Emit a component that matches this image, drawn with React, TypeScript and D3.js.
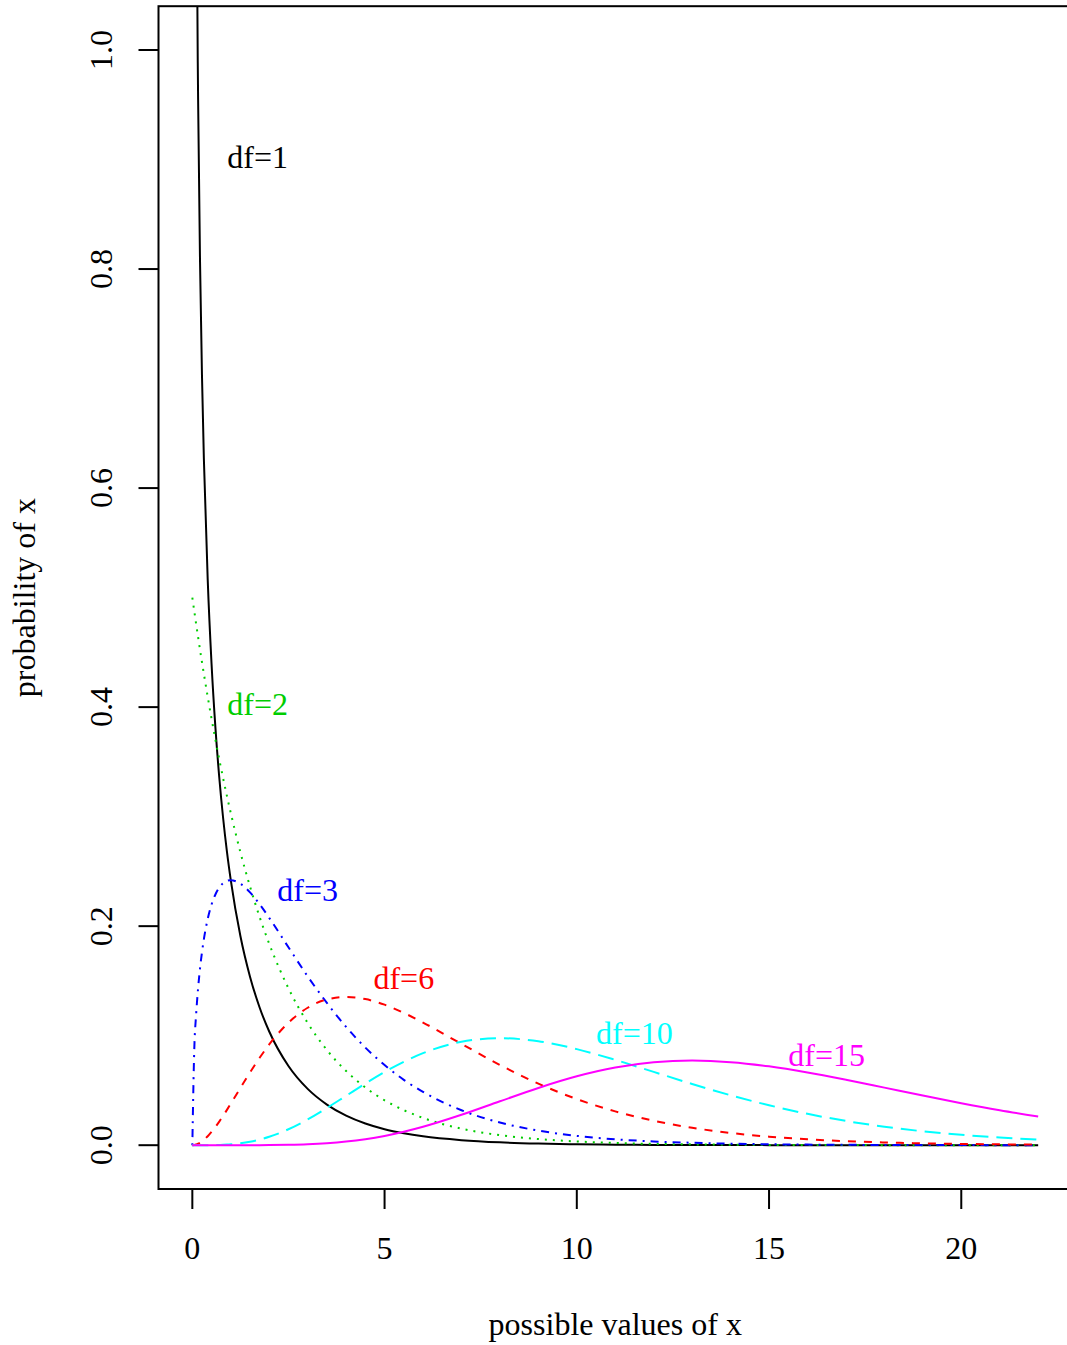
import React from "react";
import * as d3 from "d3";

// x grid (possible values of x)
const xs = [0, 0.05, 0.1, 0.15, 0.2, 0.25, 0.3, 0.4, 0.5, 0.6, 0.7, 0.8, 0.9, 1, 1.25, 1.5, 1.75, 2, 2.5, 3, 3.5, 4, 4.5, 5, 5.5, 6, 7, 8, 9, 10, 11, 12, 13, 14, 15, 16, 17, 18, 19, 20, 21, 22];

// densities
const df1 = [null, 1.74, 1.2, 0.9556, 0.8072, 0.7041, 0.6269, 0.5164, 0.4394, 0.3815, 0.336, 0.299, 0.2681, 0.242, 0.191, 0.1539, 0.1257, 0.1038, 0.0723, 0.0514, 0.0371, 0.027, 0.0198, 0.0146, 0.0109, 0.0081, 0.0046, 0.0026, 0.0015, 0.00085, 0.00049, 0.00029, 0.00017, 0.0001, 0.00006, 0.00003, 0.00002, 0.00001, 0.00001, 0, 0, 0];
const df2 = [0.5, 0.4877, 0.4756, 0.4639, 0.4524, 0.4412, 0.4304, 0.4094, 0.3894, 0.3704, 0.3523, 0.3352, 0.3188, 0.3033, 0.2676, 0.2362, 0.2084, 0.1839, 0.1433, 0.1116, 0.0869, 0.0677, 0.0527, 0.041, 0.032, 0.0249, 0.0151, 0.0092, 0.0056, 0.0034, 0.002, 0.0012, 0.00075, 0.00046, 0.00028, 0.00017, 0.0001, 0.00006, 0.00004, 0.00002, 0.00001, 0.00001];
const df3 = [0, 0.087, 0.12, 0.1433, 0.1614, 0.176, 0.1881, 0.2066, 0.2197, 0.2289, 0.2352, 0.2392, 0.2413, 0.242, 0.2388, 0.2309, 0.22, 0.2076, 0.1807, 0.1542, 0.1299, 0.108, 0.0891, 0.0732, 0.0597, 0.0487, 0.0319, 0.0207, 0.0133, 0.0085, 0.0054, 0.0034, 0.0022, 0.0014, 0.00085, 0.00053, 0.00034, 0.00021, 0.00013, 0.00008, 0.00005, 0.00003];
const df6 = [0, 0.00015, 0.0006, 0.0013, 0.00226, 0.00345, 0.00484, 0.00819, 0.01217, 0.01667, 0.02158, 0.02681, 0.03228, 0.03791, 0.05227, 0.06643, 0.0798, 0.09197, 0.1119, 0.1255, 0.1331, 0.1353, 0.1334, 0.1283, 0.1208, 0.112, 0.0925, 0.0733, 0.0562, 0.0421, 0.0309, 0.0223, 0.0159, 0.0112, 0.00778, 0.00537, 0.00368, 0.0025, 0.00169, 0.00114, 0.00076, 0.00051];
const df10 = [0, 0, 0, 0, 0, 0, 0.00001, 0.00003, 0.00006, 0.00013, 0.00022, 0.00036, 0.00055, 0.00079, 0.0017, 0.00311, 0.00509, 0.00766, 0.01457, 0.02353, 0.03396, 0.04511, 0.05628, 0.0668, 0.07617, 0.08402, 0.09441, 0.09768, 0.0949, 0.08773, 0.07791, 0.06693, 0.05591, 0.04561, 0.03646, 0.02863, 0.02213, 0.01687, 0.0127, 0.00946, 0.00697, 0.00509];
const df15 = [0, 0, 0, 0, 0, 0, 0, 0, 0, 0, 0, 0, 0, 0, 0.00001, 0.00002, 0.00005, 0.0001, 0.00033, 0.00083, 0.00176, 0.00327, 0.00548, 0.00847, 0.01225, 0.0168, 0.02775, 0.04009, 0.05229, 0.0629, 0.07089, 0.07569, 0.07724, 0.07584, 0.07203, 0.06646, 0.05978, 0.05257, 0.04532, 0.03836, 0.03195, 0.02622];

const seriesNames = ["df=1", "df=2", "df=3", "df=6", "df=10", "df=15"];
const seriesValues = [df1, df2, df3, df6, df10, df15];
const seriesColors = ["#000000", "#00CD00", "#0000FF", "#FF0000", "#00FFFF", "#FF00FF"];
const seriesDash = [null, "2,6", "2,6,8,6", "8,8", "16,8", null];

// label anchor positions (data units)
const labelX = [1.7, 1.7, 3, 5.5, 11.5, 16.5];
const labelY = [0.9, 0.4, 0.23, 0.15, 0.1, 0.08];

const xTicks = [0, 5, 10, 15, 20];
const yTicks = [0, 0.2, 0.4, 0.6, 0.8, 1.0];

const xTitle = "possible values of x";
const yTitle = "probability of x";

export default function App() {
  const W = 1067;
  const H = 1345;
  const left = 158.5;
  const right = 1072;
  const top = 6.2;
  const bottom = 1189;
  const x = d3.scaleLinear().domain([-0.88, 22.88]).range([left, right]);
  const y = d3.scaleLinear().domain([-0.04, 1.04]).range([bottom, top]);
  const font = "'Liberation Serif', 'Times New Roman', serif";
  const fs = 32;

  const makePath = (vals: (number | null)[]) =>
    d3
      .line<number>()
      .defined((_, i) => vals[i] != null)
      .x((d) => x(d))
      .y((_, i) => y(vals[i] as number))
      .curve(d3.curveMonotoneX)(xs) || "";

  return (
    <svg
      width={W}
      height={H}
      style={{ position: "absolute", left: 0, top: 0, background: "#fff" }}
      fontFamily={font}
    >
      <defs>
        <clipPath id="plotclip">
          <rect x={left} y={top} width={right - left} height={bottom - top} />
        </clipPath>
      </defs>
      <rect x={0} y={0} width={W} height={H} fill="#fff" />
      <g clipPath="url(#plotclip)">
        {seriesValues.map((vals, i) => (
          <path
            key={seriesNames[i]}
            d={makePath(vals)}
            fill="none"
            stroke={seriesColors[i]}
            strokeWidth={2}
            strokeDasharray={seriesDash[i] || undefined}
          />
        ))}
        {seriesNames.map((n, i) => (
          <text
            key={"lab" + n}
            x={x(labelX[i])}
            y={y(labelY[i])}
            dy="0.25em"
            textAnchor="middle"
            fontSize={fs}
            fill={seriesColors[i]}
          >
            {n}
          </text>
        ))}
      </g>
      <rect x={left} y={top} width={right - left} height={bottom - top} fill="none" stroke="#000" strokeWidth={2} />
      {/* x axis */}
      {xTicks.map((t) => (
        <g key={"xt" + t}>
          <line x1={x(t)} x2={x(t)} y1={bottom} y2={bottom + 20} stroke="#000" strokeWidth={2} />
          <text x={x(t)} y={1259} textAnchor="middle" fontSize={fs} fill="#000">
            {String(t)}
          </text>
        </g>
      ))}
      {/* y axis */}
      {yTicks.map((t) => (
        <g key={"yt" + t}>
          <line x1={left} x2={left - 20} y1={y(t)} y2={y(t)} stroke="#000" strokeWidth={2} />
          <text
            transform={`translate(112,${y(t)}) rotate(-90)`}
            textAnchor="middle"
            fontSize={fs}
            fill="#000"
          >
            {t.toFixed(1)}
          </text>
        </g>
      ))}
      <text x={(left + right) / 2} y={1335} textAnchor="middle" fontSize={fs} fill="#000">
        {xTitle}
      </text>
      <text
        transform={`translate(35,${(top + bottom) / 2}) rotate(-90)`}
        textAnchor="middle"
        fontSize={fs}
        fill="#000"
      >
        {yTitle}
      </text>
    </svg>
  );
}
